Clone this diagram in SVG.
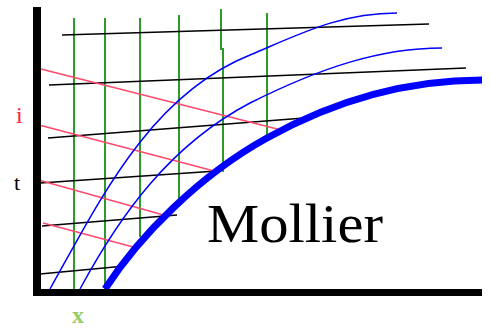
<svg xmlns="http://www.w3.org/2000/svg" width="491" height="328" viewBox="0 0 491 328">
<style>
.g{stroke:#2e9a2e;stroke-width:2;fill:none}
.k{stroke:#000;stroke-width:1.6;fill:none}
.r{stroke:#ff4a6e;stroke-width:1.6;fill:none}
.b{stroke:#0000ff;stroke-width:1.5;fill:none}
.lbl{font-family:"Liberation Serif",serif}
</style>
<rect width="491" height="328" fill="#fff"/>
<g id="connectors">
<g id="green">
<line class="g" x1="74" y1="18" x2="74" y2="289"/>
<line class="g" x1="105" y1="18" x2="105" y2="289"/>
<line class="g" x1="140" y1="18" x2="140" y2="237"/>
<line class="g" x1="179" y1="15" x2="179" y2="205"/>
<polyline class="g" points="221,9 221,49 223,49 223,172"/>
<line class="g" x1="267" y1="13" x2="267" y2="138"/>
</g>
<g id="black">
<line class="k" x1="62" y1="35" x2="429" y2="24"/>
<line class="k" x1="49" y1="85" x2="466" y2="68"/>
<line class="k" x1="48" y1="138" x2="317" y2="117"/>
<line class="k" x1="40" y1="183" x2="217" y2="171"/>
<line class="k" x1="42" y1="226" x2="177" y2="215"/>
<line class="k" x1="40" y1="274" x2="125" y2="266"/>
</g>
<g id="red">
<line class="r" x1="37" y1="68" x2="285" y2="131"/>
<line class="r" x1="39" y1="125" x2="218" y2="172"/>
<line class="r" x1="35" y1="179" x2="167" y2="216"/>
<line class="r" x1="43" y1="223" x2="137" y2="248"/>
</g>
<g id="blue">
<path class="b" d="M50,289 C100,200 150,95 250,55 C300,34 340,13 397,13"/>
<path class="b" d="M80,289 C120,215 170,145 250,103 C320,68 380,48 442,48"/>
<path d="M105,289 C140,235 200,175 267,138 C330,103 400,80 482,80" fill="none" stroke="#0000ff" stroke-width="7"/>
</g>
</g>
<g id="axes">
<rect x="33" y="7" width="8" height="289" fill="#000"/>
<rect x="33" y="289" width="449" height="7" fill="#000"/>
</g>
<g id="labels">
<text class="lbl" x="16" y="123" font-size="24" fill="#ff2040">i</text>
<text class="lbl" x="14" y="190" font-size="22" fill="#000">t</text>
<text class="lbl" x="72" y="323" font-size="24" font-weight="bold" fill="#99cc66">x</text>
<text class="lbl" x="207" y="242" font-size="55" textLength="176" lengthAdjust="spacingAndGlyphs" fill="#000">Mollier</text>
</g>
</svg>
